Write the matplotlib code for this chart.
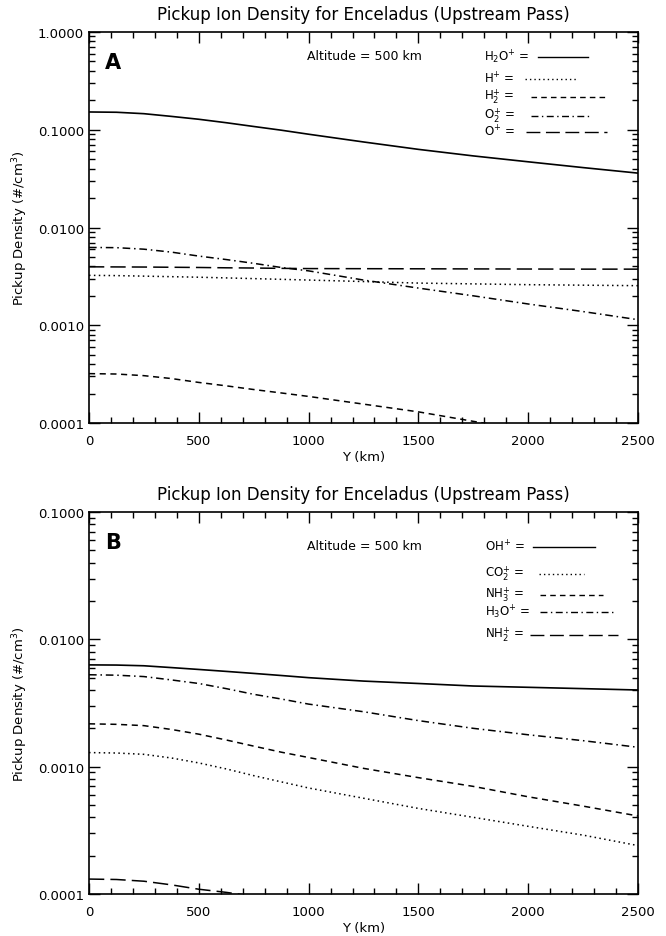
import matplotlib
matplotlib.use("Agg")
import matplotlib.pyplot as plt
from matplotlib.ticker import FixedLocator, LogLocator, NullFormatter, FormatStrFormatter, MultipleLocator
from matplotlib.lines import Line2D

plt.rcParams['font.family'] = ['DejaVu Sans']
plt.rcParams['mathtext.fontset'] = 'dejavusans'

# distance along track (km)
y_km = [0, 125, 250, 375, 500, 625, 750, 875, 1000, 1250, 1500, 1750, 2000, 2250, 2500]

# panel A densities (#/cm^3)
h2o_p = [0.152, 0.151, 0.146, 0.137, 0.128, 0.118, 0.108, 0.099, 0.090, 0.075, 0.063, 0.054, 0.047, 0.041, 0.036]
h_p = [0.00324, 0.00322, 0.00318, 0.00314, 0.0031, 0.00305, 0.0030, 0.00295, 0.0029, 0.0028, 0.0027,
       0.00265, 0.0026, 0.00257, 0.00254]
h2_p = [3.2e-4, 3.17e-4, 3.05e-4, 2.85e-4, 2.6e-4, 2.4e-4, 2.2e-4, 2.03e-4, 1.87e-4, 1.56e-4, 1.3e-4,
        1.04e-4, 0.84e-4, 0.68e-4, 0.55e-4]
o2_p = [0.00625, 0.00622, 0.0060, 0.0056, 0.0051, 0.0047, 0.0043, 0.0039, 0.0036, 0.0029, 0.0024,
        0.0020, 0.00165, 0.00138, 0.00114]
o_p = [0.00396, 0.00395, 0.00394, 0.00392, 0.0039, 0.00387, 0.00385, 0.00382, 0.0038, 0.00379, 0.00378,
       0.00377, 0.00376, 0.00375, 0.00375]

# panel B densities (#/cm^3)
oh_p = [0.0063, 0.00628, 0.0062, 0.0060, 0.0058, 0.0056, 0.0054, 0.0052, 0.0050, 0.0047, 0.0045,
        0.0043, 0.0042, 0.0041, 0.0040]
co2_p = [0.00129, 0.00128, 0.00125, 0.00117, 0.00107, 0.00096, 0.00085, 0.00076, 0.00068, 0.000565,
         0.00047, 0.00040, 0.00034, 0.00029, 0.00024]
nh3_p = [0.00217, 0.00215, 0.0021, 0.00196, 0.0018, 0.00162, 0.00145, 0.0013, 0.00118, 0.00097, 0.00082,
         0.0007, 0.00058, 0.00049, 0.00041]
h3o_p = [0.00527, 0.00523, 0.0051, 0.0048, 0.0045, 0.0041, 0.0037, 0.0034, 0.0031, 0.0027, 0.0023,
         0.0020, 0.00178, 0.0016, 0.00142]
nh2_p = [1.31e-4, 1.3e-4, 1.26e-4, 1.18e-4, 1.09e-4, 1.03e-4, 0.96e-4, 0.88e-4, 0.8e-4, 0.69e-4, 0.6e-4,
         0.52e-4, 0.45e-4, 0.4e-4, 0.35e-4]

styles = {
    'solid': '-',
    'dot': (0, (1, 2.2)),
    'dash': (0, (4, 3)),
    'dashdot': (0, (5, 2.5, 1, 2.5)),
    'longdash': (0, (10, 4)),
}

W, H = 666, 937
fig = plt.figure(figsize=(W / 100, H / 100), dpi=100)


def px(x, y):
    return x / W, 1 - y / H


def setup(ax, ymin, ymax, yticks):
    ax.set_xlim(0, 2500)
    ax.set_yscale('log')
    ax.set_ylim(ymin, ymax)
    ax.yaxis.set_major_locator(FixedLocator(yticks))
    ax.yaxis.set_major_formatter(FormatStrFormatter('%.4f'))
    ax.yaxis.set_minor_locator(LogLocator(base=10, subs=range(2, 10)))
    ax.yaxis.set_minor_formatter(NullFormatter())
    ax.xaxis.set_major_locator(MultipleLocator(500))
    ax.xaxis.set_minor_locator(MultipleLocator(100))
    ax.tick_params(which='both', direction='in', top=True, right=True, labelsize=9.5, width=1)
    ax.tick_params(which='major', length=8)
    ax.tick_params(which='minor', length=4.5)
    ax.tick_params(axis='x', pad=8)
    for s in ax.spines.values():
        s.set_linewidth(1.2)
    ax.set_title('Pickup Ion Density for Enceladus (Upstream Pass)', fontsize=12, pad=9)
    ax.set_xlabel('Y (km)', fontsize=9.5, labelpad=2)
    ax.set_ylabel('Pickup Density (#/cm$^3$)', fontsize=9.5, labelpad=6)


def legend_entry(x_txt, y, label, x0, x1, ls):
    fig.text(*px(x_txt, y), label, fontsize=8.5, va='center', ha='left')
    xa, ya = px(x0, y + 1)
    xb, _ = px(x1, y + 1)
    fig.add_artist(Line2D([xa, xb], [ya, ya], color='black', lw=1, linestyle=ls))


# panel A
axA = fig.add_axes([*px(89, 424), 549 / W, (424 - 33) / H])
axA.plot(y_km, h2o_p, color='black', lw=1.2, linestyle=styles['solid'])
axA.plot(y_km, h_p, color='black', lw=1.1, linestyle=styles['dot'])
axA.plot(y_km, h2_p, color='black', lw=1.1, linestyle=styles['dash'])
axA.plot(y_km, o2_p, color='black', lw=1.1, linestyle=styles['dashdot'])
axA.plot(y_km, o_p, color='black', lw=1.1, linestyle=styles['longdash'])
setup(axA, 1e-4, 1.0, [1e-4, 1e-3, 1e-2, 1e-1, 1.0])
fig.text(*px(105, 63), 'A', fontsize=15, fontweight='bold', va='center')
fig.text(*px(307, 56), 'Altitude = 500 km', fontsize=9, va='center')
legend_entry(484, 57, r'H$_2$O$^{+}$ =', 538, 588, styles['solid'])
legend_entry(484, 79, r'H$^{+}$ =', 525, 578, styles['dot'])
legend_entry(484, 97, r'H$_2^{+}$ =', 531, 606, styles['dash'])
legend_entry(484, 116, r'O$_2^{+}$ =', 531, 592, styles['dashdot'])
legend_entry(484, 132, r'O$^{+}$ =', 526, 607, styles['longdash'])

# panel B
axB = fig.add_axes([*px(89, 895), 549 / W, (895 - 513) / H])
axB.plot(y_km, oh_p, color='black', lw=1.2, linestyle=styles['solid'])
axB.plot(y_km, co2_p, color='black', lw=1.1, linestyle=styles['dot'])
axB.plot(y_km, nh3_p, color='black', lw=1.1, linestyle=styles['dash'])
axB.plot(y_km, h3o_p, color='black', lw=1.1, linestyle=styles['dashdot'])
axB.plot(y_km, nh2_p, color='black', lw=1.1, linestyle=styles['longdash'])
setup(axB, 1e-4, 0.1, [1e-4, 1e-3, 1e-2, 1e-1])
fig.text(*px(105, 543), 'B', fontsize=15, fontweight='bold', va='center')
fig.text(*px(307, 547), 'Altitude = 500 km', fontsize=9, va='center')
legend_entry(485, 547, r'OH$^{+}$ =', 533, 595, styles['solid'])
legend_entry(485, 574, r'CO$_2^{+}$ =', 539, 584, styles['dot'])
legend_entry(485, 595, r'NH$_3^{+}$ =', 540, 603, styles['dash'])
legend_entry(485, 612, r'H$_3$O$^{+}$ =', 540, 615, styles['dashdot'])
legend_entry(485, 635, r'NH$_2^{+}$ =', 530, 618, styles['longdash'])

fig.savefig('out.png', dpi=100)
